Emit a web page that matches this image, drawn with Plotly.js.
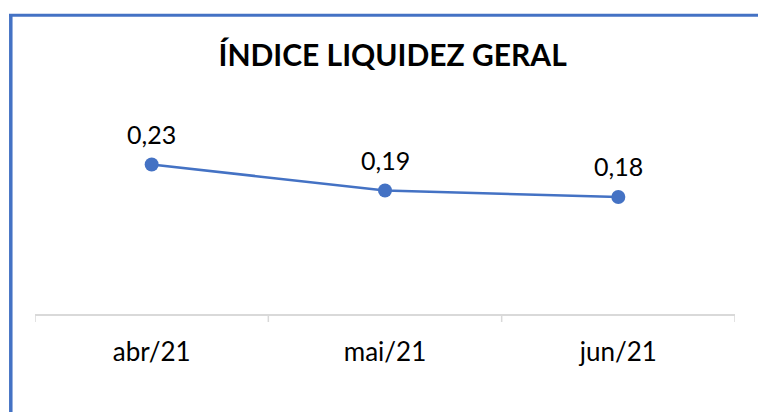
<!DOCTYPE html>
<html>
<head>
<meta charset="utf-8">
<script src="https://cdn.plot.ly/plotly-3.0.1.min.js"></script>
<style>
html,body{margin:0;padding:0;background:#fff;}
#chart{width:758px;height:412px;}
</style>
</head>
<body>
<div id="chart"></div>
<script>
const categories = ["abr/21", "mai/21", "jun/21"];
const values = [0.23, 0.19, 0.18];
const labels = ["0,23", "0,19", "0,18"];
const chartTitle = "ÍNDICE LIQUIDEZ GERAL";

const blue = "#4472C4";
const xs = categories.map((c, i) => i);
const trace = {
  x: xs,
  y: values,
  type: "scatter",
  mode: "lines+markers",
  line: {color: blue, width: 2.5},
  marker: {color: blue, size: 14},
  hoverinfo: "skip",
  cliponaxis: false
};

const mL = 35, mR = 23, mT = 98, mB = 98;
const plotW = 758 - mL - mR, plotH = 412 - mT - mB;

const layout = {
  width: 758, height: 412,
  margin: {l: mL, r: mR, t: mT, b: mB},
  paper_bgcolor: "#fff",
  plot_bgcolor: "#fff",
  showlegend: false,
  title: {
    text: "<b>" + chartTitle + "</b>",
    font: {family: "Lato, sans-serif", size: 30, color: "#000"},
    x: 0.518, xanchor: "center",
    y: 0.866, yanchor: "middle"
  },
  xaxis: {
    range: [-0.5, 2.5],
    tickvals: xs,
    ticktext: categories,
    showgrid: false,
    zeroline: false,
    showline: true,
    linecolor: "#d9d9d9",
    linewidth: 1.5,
    ticks: "",
    tickfont: {family: "Lato, 'Open Sans', sans-serif", size: 26, color: "#000"},
    ticklabelstandoff: 14,
    fixedrange: true
  },
  yaxis: {
    range: [0, plotH / 650],
    visible: false,
    fixedrange: true
  },
  annotations: values.map((v, i) => ({
    x: xs[i], y: v, xref: "x", yref: "y",
    text: labels[i], showarrow: false,
    yshift: 31, yanchor: "middle", xanchor: "center",
    font: {family: "Lato, 'Open Sans', sans-serif", size: 25, color: "#000"}
  })),
  shapes: [
    ...[-0.5, 0.5, 1.5, 2.5].map(v => ({
      type: "line", xref: "x", yref: "paper", x0: v, x1: v,
      y0: 0, y1: -8 / plotH,
      line: {color: "#d9d9d9", width: 1.5}
    })),
    {type: "line", xref: "paper", yref: "paper",
      x0: (10.8 - mL) / plotW, x1: (10.8 - mL) / plotW,
      y0: (412 - mB - 412) / plotH, y1: (412 - mB - 14.2) / plotH,
      line: {color: blue, width: 3.5}},
    {type: "line", xref: "paper", yref: "paper",
      x0: (9 - mL) / plotW, x1: (758 - mL) / plotW,
      y0: (412 - mB - 15.3) / plotH, y1: (412 - mB - 15.3) / plotH,
      line: {color: blue, width: 3}}
  ]
};

Plotly.newPlot("chart", [trace], layout, {staticPlot: true, displayModeBar: false});
</script>
</body>
</html>
